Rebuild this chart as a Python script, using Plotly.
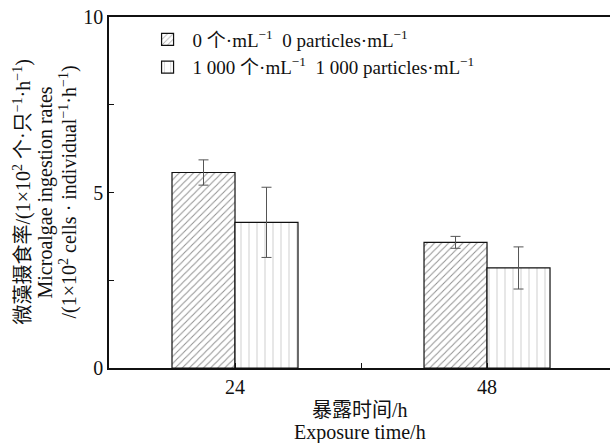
import plotly.graph_objects as go

categories = ["24", "48"]
series_names = ["0 个·mL<sup>−1</sup>  0 particles·mL<sup>−1</sup>",
                "1 000 个·mL<sup>−1</sup>  1 000 particles·mL<sup>−1</sup>"]
values_0 = [5.57, 3.58]
errors_0 = [0.36, 0.17]
values_1000 = [4.15, 2.85]
errors_1000 = [1.0, 0.6]
y_title_lines = ["微藻摄食率/(1×10<sup>2</sup> 个·只<sup>−1</sup>·h<sup>−1</sup>)",
                 "Microalgae ingestion rates",
                 "/(1×10<sup>2</sup> cells · individual<sup>−1</sup>·h<sup>−1</sup>)"]
x_title_lines = ["暴露时间/h", "Exposure time/h"]

xpos = [1, 2]
FONT = "Liberation Serif, Noto Sans CJK SC, serif"

fig = go.Figure()
fig.add_trace(go.Bar(
    x=xpos, y=values_0, name=series_names[0],
    marker=dict(color="white", line=dict(color="#111", width=1.2),
                pattern=dict(shape="/", fgcolor="#222", size=5, solidity=0.2)),
    error_y=dict(type="data", array=errors_0, color="#555", thickness=1, width=5),
))
fig.add_trace(go.Bar(
    x=xpos, y=values_1000, name=series_names[1],
    marker=dict(color="white", line=dict(color="#111", width=1.2),
                pattern=dict(shape="|", fgcolor="#888", size=8, solidity=0.1)),
    error_y=dict(type="data", array=errors_1000, color="#555", thickness=1, width=5),
))

ann = []
for text, px in zip(y_title_lines, [22, 45, 68]):
    ann.append(dict(text=text, xref="paper", yref="paper", x=(px - 109) / 501, y=0.5,
                    xanchor="center", yanchor="middle", textangle=-90, showarrow=False,
                    font=dict(size=20, family=FONT)))
for text, py in zip(x_title_lines, [410, 432]):
    ann.append(dict(text=text, xref="paper", yref="paper", x=0.5, y=(368 - py) / 351,
                    xanchor="center", yanchor="middle", showarrow=False,
                    font=dict(size=20, family=FONT)))

fig.update_layout(
    width=610, height=443,
    margin=dict(l=109, r=0, t=17, b=75, autoexpand=False),
    paper_bgcolor="white", plot_bgcolor="white",
    barmode="group", bargap=0.5, bargroupgap=0,
    font=dict(family=FONT, size=20, color="#111"),
    showlegend=True,
    legend=dict(x=0.067, y=0.99, xanchor="left", yanchor="top",
                bgcolor="rgba(0,0,0,0)", font=dict(size=19, family=FONT),
                tracegroupgap=0, itemwidth=40),
    annotations=ann,
)
fig.update_xaxes(
    range=[0.5, 2.488], tickvals=xpos, ticktext=categories, automargin=False,
    ticks="inside", ticklen=5, tickcolor="#111",
    minor=dict(tickvals=[1.5], ticks="inside", ticklen=5, tickcolor="#111"),
    showline=True, linecolor="#111", linewidth=1.5, mirror=True,
    showgrid=False, zeroline=False,
    tickfont=dict(size=20, family=FONT),
)
fig.update_yaxes(
    range=[0, 10], tickvals=[0, 5, 10], automargin=False,
    ticks="inside", ticklen=5, tickcolor="#111",
    minor=dict(tickvals=[2.5, 7.5], ticks="inside", ticklen=5, tickcolor="#111"),
    showline=True, linecolor="#111", linewidth=1.5,
    showgrid=False, zeroline=False,
    tickfont=dict(size=20, family=FONT),
)

fig.write_html("out.html", config={"displayModeBar": False},
               post_script="document.body.style.margin='0';")
